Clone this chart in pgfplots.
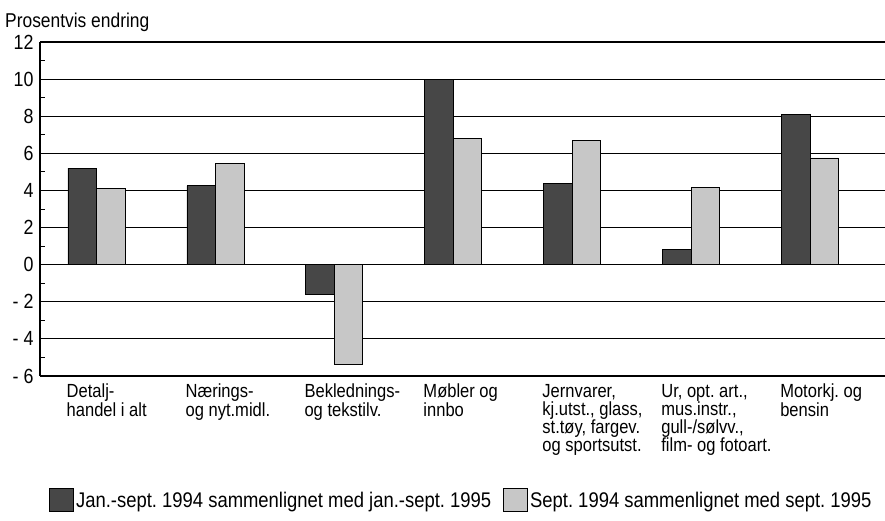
\documentclass[border=0pt]{standalone}
\usepackage{fontspec}
\setmainfont{Liberation Sans}[FakeStretch=0.87]
\usepackage{pgfplots}
\pgfplotsset{compat=1.18}
\definecolor{darkbar}{gray}{0.28}
\definecolor{lightbar}{gray}{0.78}
\frenchspacing
\begin{document}
\begin{tikzpicture}
\begin{axis}[
  scale only axis, width=845pt, height=334pt,
  xmin=-0.475, xmax=6.63, ymin=-6, ymax=12,
  clip=false,
  ybar=0pt, bar width=28.5pt,
  axis x line*=bottom, axis y line*=left,
  axis line style={line width=1.2pt, black},
  ymajorgrids, grid style={line width=1.2pt, black},
  ytick={-6,-4,...,12},
  yticklabels={- 6,- 4,- 2,0,2,4,6,8,10,12},
  minor y tick num=1, tick align=inside,
  minor tick length=5pt, major tick length=0pt,
  y tick style={line width=1pt, black},
  xtick={0,...,6},
  x tick style={draw=none},
  xticklabels={{Detalj-\\handel i alt},{Nærings-\\og nyt.midl.},{Beklednings-\\og tekstilv.},{Møbler og\\innbo},{Jernvarer,\\kj.utst., glass,\\st.tøy, fargev.\\og sportsutst.},{Ur, opt. art.,\\mus.instr.,\\gull-/sølvv.,\\film- og fotoart.},{Motorkj. og\\bensin}},
  xticklabel style={anchor=north west, inner sep=0pt, xshift=-30pt, yshift=-8pt, align=left, font=\fontsize{19}{18.2}\selectfont},
  yticklabel style={font=\fontsize{20.5}{20}\selectfont, xshift=-3pt},
  /pgf/number format/assume math mode=true,
  legend columns=2,
  legend style={at={(0.0107,-0.372)}, anchor=west, draw=none, inner sep=0pt,
    font=\fontsize{21.2}{22}\selectfont,
    /tikz/every even column/.append style={column sep=10pt}},
  legend image code/.code={\draw[#1, draw=black, line width=0.8pt] (0pt,-11.5pt) rectangle (24pt,11.5pt);},
]
\addplot[fill=darkbar, draw=black, line width=0.8pt] coordinates {(0,5.2) (1,4.25) (2,-1.6) (3,10.0) (4,4.4) (5,0.8) (6,8.1)};
\addplot[fill=lightbar, draw=black, line width=0.8pt] coordinates {(0,4.1) (1,5.45) (2,-5.4) (3,6.8) (4,6.7) (5,4.15) (6,5.75)};
\legend{Jan.-sept. 1994 sammenlignet med jan.-sept. 1995, Sept. 1994 sammenlignet med sept. 1995}
\node[anchor=base west, inner sep=0pt, font=\fontsize{20}{20}\selectfont] at ([xshift=-35pt,yshift=15pt]rel axis cs:0,1) {Prosentvis endring};
\end{axis}
\pgfresetboundingbox
\useasboundingbox (-40pt,-144pt) rectangle (845pt,376pt);
\end{tikzpicture}
\end{document}
